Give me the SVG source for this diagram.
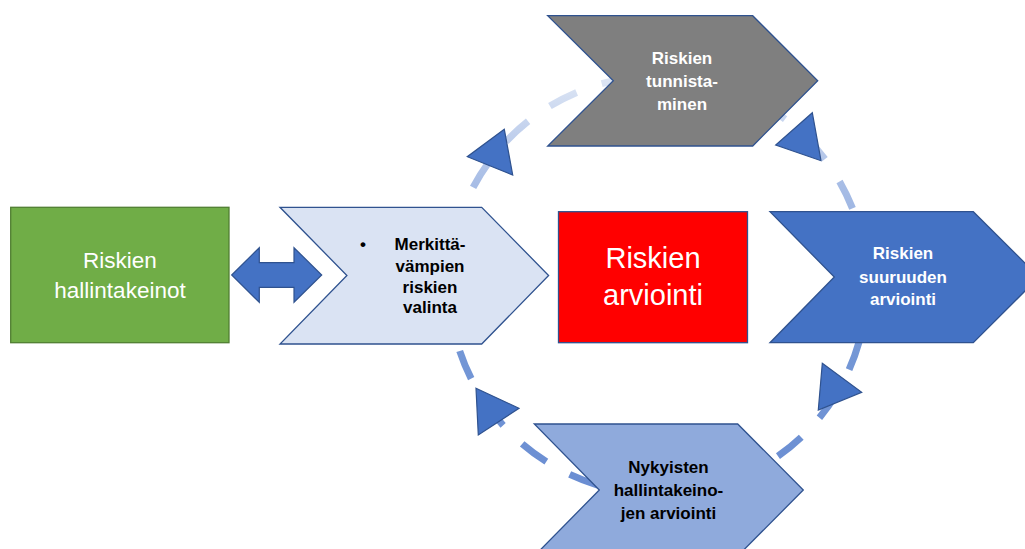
<svg xmlns="http://www.w3.org/2000/svg" width="1025" height="549" viewBox="0 0 1025 549">
<style>
.chev{stroke:#2f528f;stroke-width:1.3;stroke-linejoin:miter}
.arc{fill:none;stroke:url(#ring);stroke-width:7;stroke-dasharray:30 26.6}
.tri{fill:#4472c4;stroke:#2f528f;stroke-width:1.2;stroke-linejoin:miter}
.bt{font-family:"Liberation Sans",Arial,sans-serif;font-weight:bold;font-size:17px;text-anchor:middle}
.rt{font-family:"Liberation Sans",Arial,sans-serif;text-anchor:middle;fill:#fff}
</style>
<defs>
<linearGradient id="ring" gradientUnits="userSpaceOnUse" x1="0" y1="75" x2="0" y2="495">
<stop offset="0" stop-color="#dfe7f5"/>
<stop offset="0.25" stop-color="#a9bee6"/>
<stop offset="0.655" stop-color="#7497d6"/>
<stop offset="1" stop-color="#6a8dd2"/>
</linearGradient>
</defs>
<rect width="1025" height="549" fill="#fff"/>
<g id="connectors">
<path class="arc" d="M631.1,77.7 A209,209 0 0 0 458.1,223.9"/>
<path class="arc" d="M852.5,208.4 A209,209 0 0 0 746.3,95.6"/>
<path class="arc" d="M727.8,482 A209,209 0 0 0 863.8,321.3"/>
<path class="arc" d="M459.7,351 A209,209 0 0 0 621.7,490.8"/>
<path class="tri" d="M504.3,129.3 L467.3,156.7 L512.7,175 Z"/>
<path class="tri" d="M812.3,112.7 L775.7,145 L821,160.7 Z"/>
<path class="tri" d="M822.3,363.3 L861.7,392.3 L818.3,410 Z"/>
<path class="tri" d="M476,388.3 L519,408.3 L478.3,435 Z"/>
<path class="tri" d="M231.7,275 L259.3,247.7 L259.3,262.7 L294,262.7 L294,247.7 L321.7,275 L294,302.3 L294,287.3 L259.3,287.3 L259.3,302.3 Z"/>
</g>
<g id="node-hallintakeinot">
<rect x="10.7" y="207.3" width="218.3" height="135.4" fill="#70ad47" stroke="#507e32" stroke-width="1.3"/>
<text class="rt" font-size="22.5" x="120" y="268.3">Riskien</text>
<text class="rt" font-size="22.5" x="120" y="297.7">hallintakeinot</text>
</g>
<g id="node-valinta">
<path class="chev" fill="#dae3f3" d="M280,207.3 L481.7,207.3 L548.6,275.5 L481.7,344 L280,344 L346.9,275.5 Z"/>
<text class="bt" font-size="18" x="363" y="250">•</text>
<text class="bt" font-size="18" x="430" y="250">Merkittä-</text>
<text class="bt" font-size="18" x="430" y="271.5">vämpien</text>
<text class="bt" font-size="18" x="430" y="292.5">riskien</text>
<text class="bt" font-size="18" x="430" y="313">valinta</text>
</g>
<g id="node-arviointi">
<rect x="558.5" y="211.7" width="189" height="131" fill="#ff0000" stroke="#2f528f" stroke-width="1.3"/>
<text class="rt" font-size="29" x="653" y="268">Riskien</text>
<text class="rt" font-size="29" x="653" y="305">arviointi</text>
</g>
<g id="node-tunnistaminen">
<path class="chev" fill="#7f7f7f" d="M547.7,15.7 L752.7,15.7 L817.7,80.7 L752.7,146 L547.7,146 L613.3,80.7 Z"/>
<text class="bt" fill="#fff" x="682" y="64">Riskien</text>
<text class="bt" fill="#fff" x="682" y="87.3">tunnista-</text>
<text class="bt" fill="#fff" x="682" y="110">minen</text>
</g>
<g id="node-suuruus">
<path class="chev" fill="#4472c4" d="M770,211.7 L973.3,211.7 L1039,277 L973.3,342.7 L770,342.7 L834.3,277 Z"/>
<text class="bt" fill="#fff" x="903" y="259.3">Riskien</text>
<text class="bt" fill="#fff" x="903" y="282.7">suuruuden</text>
<text class="bt" fill="#fff" x="903" y="305">arviointi</text>
</g>
<g id="node-nykyiset">
<path class="chev" fill="#8faadc" d="M534.3,424 L737.7,424 L803.3,490 L737.7,556 L534.3,556 L599.3,490 Z"/>
<text class="bt" fill="#000" x="668.5" y="472.7">Nykyisten</text>
<text class="bt" fill="#000" x="668.5" y="496">hallintakeino-</text>
<text class="bt" fill="#000" x="668.5" y="518.7">jen arviointi</text>
</g>
</svg>
